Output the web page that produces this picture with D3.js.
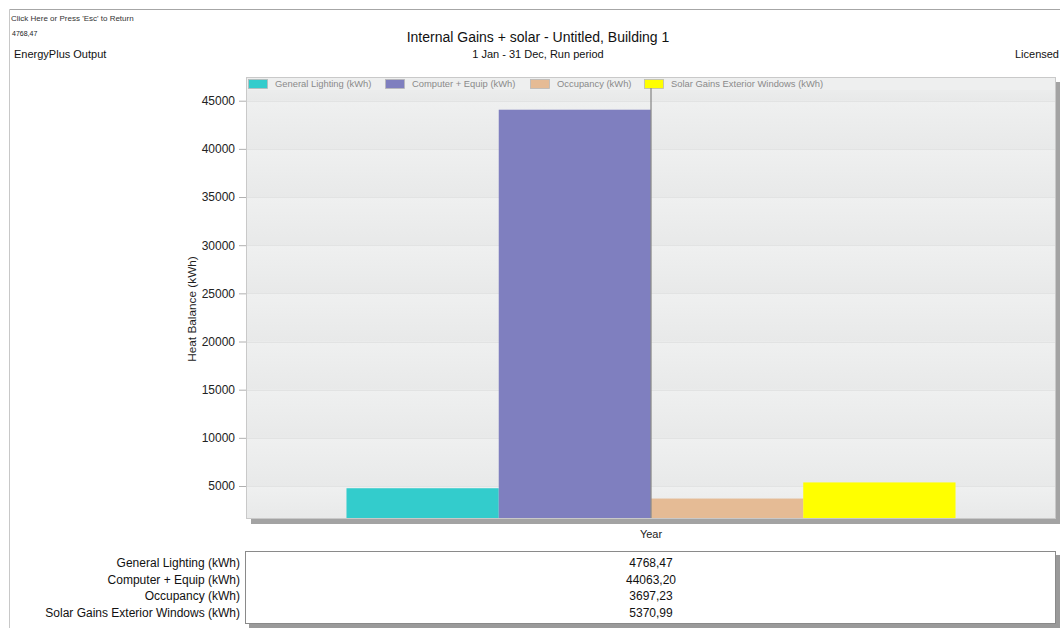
<!DOCTYPE html>
<html>
<head>
<meta charset="utf-8">
<script src="https://cdn.jsdelivr.net/npm/d3@7"></script>
<style>
  html, body { margin: 0; padding: 0; background: #fff; overflow: hidden; }
  svg { display: block; font-family: Arial, "Liberation Sans", sans-serif; }
</style>
</head>
<body>
<svg id="chart" width="1060" height="628"></svg>
<script>
// ---- data ----
const categories = ["Year"];
const seriesNames = ["General Lighting (kWh)", "Computer + Equip (kWh)", "Occupancy (kWh)", "Solar Gains Exterior Windows (kWh)"];
const seriesValues = [4768.47, 44063.20, 3697.23, 5370.99];
const seriesLabels = ["4768,47", "44063,20", "3697,23", "5370,99"];
const seriesColors = ["#33cccc", "#7f7fbf", "#e5bb95", "#ffff00"];
const yTicks = [5000, 10000, 15000, 20000, 25000, 30000, 35000, 40000, 45000];

const svg = d3.select("#chart");

// frame
svg.append("line").attr("x1", 9.5).attr("x2", 1060).attr("y1", 9.5).attr("y2", 9.5).attr("stroke", "#a6a6a6");
svg.append("line").attr("x1", 9.5).attr("x2", 9.5).attr("y1", 9.5).attr("y2", 628).attr("stroke", "#c8c8c8");

// header texts
svg.append("text").attr("x", 11).attr("y", 21).attr("font-size", 8).attr("fill", "#333").text("Click Here or Press 'Esc' to Return");
svg.append("text").attr("x", 12).attr("y", 36).attr("font-size", 7).attr("fill", "#222").text(seriesLabels[0]);
svg.append("text").attr("x", 14).attr("y", 58).attr("font-size", 11).attr("fill", "#111").text("EnergyPlus Output");
svg.append("text").attr("x", 1059).attr("y", 58).attr("font-size", 11).attr("text-anchor", "end").attr("fill", "#111").text("Licensed");
svg.append("text").attr("x", 538).attr("y", 42).attr("font-size", 14).attr("text-anchor", "middle").attr("fill", "#111")
  .text("Internal Gains + solar - Untitled, Building 1");
svg.append("text").attr("x", 538).attr("y", 58).attr("font-size", 11).attr("text-anchor", "middle").attr("fill", "#111")
  .text("1 Jan - 31 Dec, Run period");

// plot geometry
const plotL = 246, plotR = 1056, plotT = 77, plotB = 519;
const y = d3.scaleLinear().domain([5000, 45000]).range([486, 100.7]);
const yMin = y.invert(plotB), yMax = y.invert(plotT);
y.domain([yMin, yMax]).range([plotB, plotT]);

const x0 = d3.scaleBand().domain(categories).range([plotL, plotR]).paddingInner(0).paddingOuter(0.165);
const x1 = d3.scaleBand().domain(seriesNames).range([0, x0.bandwidth()]).padding(0);

// shadow
svg.append("rect").attr("x", plotL + 5).attr("y", plotT + 5).attr("width", plotR - plotL).attr("height", plotB - plotT)
  .attr("fill", "#a3a3a3");

// background bands with gradient
const defs = svg.append("defs");
const grad = defs.append("linearGradient").attr("id", "band").attr("x1", 0).attr("y1", 0).attr("x2", 0).attr("y2", 1);
grad.append("stop").attr("offset", "0%").attr("stop-color", "#eff0f0");
grad.append("stop").attr("offset", "100%").attr("stop-color", "#e8e9e9");
svg.append("rect").attr("x", plotL).attr("y", plotT).attr("width", plotR - plotL).attr("height", plotB - plotT).attr("fill", "#eceded");
const bandEdges = [yMin].concat(yTicks).concat([yMax]);
for (let i = 0; i < bandEdges.length - 1; i++) {
  const yb = y(bandEdges[i]), yt = y(bandEdges[i + 1]);
  svg.append("rect").attr("x", plotL).attr("y", yt).attr("width", plotR - plotL).attr("height", yb - yt).attr("fill", "url(#band)");
}
// gridlines
svg.append("g").selectAll("line").data(yTicks).join("line")
  .attr("x1", plotL).attr("x2", plotR).attr("y1", d => Math.round(y(d)) + 0.5).attr("y2", d => Math.round(y(d)) + 0.5)
  .attr("stroke", "#e2e3e3");

// bars
const g = svg.append("g").attr("transform", `translate(${x0(categories[0])},0)`);
g.selectAll("rect").data(seriesValues).join("rect")
  .attr("x", (d, i) => x1(seriesNames[i]))
  .attr("y", d => y(d))
  .attr("width", x1.bandwidth())
  .attr("height", d => plotB - y(d))
  .attr("fill", (d, i) => seriesColors[i]);

// legend strip
svg.append("rect").attr("x", plotL).attr("y", plotT).attr("width", plotR - plotL).attr("height", 13).attr("fill", "#eeefef");
const legendX = [248, 385, 530, 644];
const lg = svg.append("g");
seriesNames.forEach((n, i) => {
  lg.append("rect").attr("x", legendX[i] + 0.5).attr("y", 79.5).attr("width", 19).attr("height", 9)
    .attr("fill", seriesColors[i]).attr("stroke", "#b9b9b9").attr("stroke-width", 0.8);
  lg.append("text").attr("x", legendX[i] + 27).attr("y", 87).attr("font-size", 9.4).attr("fill", "#8a8a8a").text(n);
});

// category center line
svg.append("line").attr("x1", x0(categories[0]) + x0.bandwidth() / 2).attr("x2", x0(categories[0]) + x0.bandwidth() / 2)
  .attr("y1", 88).attr("y2", plotB).attr("stroke", "#8c8c8c").attr("stroke-width", 1.3);

// plot border
svg.append("rect").attr("x", plotL + 0.5).attr("y", plotT + 0.5).attr("width", plotR - plotL - 1).attr("height", plotB - plotT - 1)
  .attr("fill", "none").attr("stroke", "#c9c9c9");

// y axis
const yAxis = d3.axisLeft(y).tickValues(yTicks).tickSize(7).tickPadding(4).tickFormat(d3.format("d"));
const ya = svg.append("g").attr("transform", `translate(${plotL},0)`).call(yAxis);
ya.select(".domain").remove();
ya.selectAll(".tick line").attr("stroke", "#b0b0b0");
ya.selectAll(".tick text").attr("font-size", 12).attr("fill", "#222").attr("font-family", "Arial, 'Liberation Sans', sans-serif");

svg.append("text").attr("transform", "translate(196,309) rotate(-90)").attr("text-anchor", "middle")
  .attr("font-size", 11.8).attr("fill", "#222").text("Heat Balance (kWh)");

// x axis label
svg.append("text").attr("x", x0(categories[0]) + x0.bandwidth() / 2).attr("y", 538).attr("text-anchor", "middle")
  .attr("font-size", 11).attr("fill", "#222").text(categories[0]);

// data table
const tL = 245, tT = 551, tR = 1056, tB = 624;
svg.append("rect").attr("x", tL + 4).attr("y", tT + 4).attr("width", tR - tL).attr("height", tB - tT).attr("fill", "#9a9a9a");
svg.append("rect").attr("x", tL + 0.5).attr("y", tT + 0.5).attr("width", tR - tL - 1).attr("height", tB - tT - 1)
  .attr("fill", "#fff").attr("stroke", "#8a8a8a");
const rowY = d3.scalePoint().domain(seriesNames).range([567, 617]);
svg.append("g").selectAll("text").data(seriesNames).join("text")
  .attr("x", 240).attr("y", d => rowY(d)).attr("text-anchor", "end").attr("font-size", 12).attr("fill", "#111").text(d => d);
svg.append("g").selectAll("text").data(seriesLabels).join("text")
  .attr("x", 651).attr("y", (d, i) => rowY(seriesNames[i])).attr("text-anchor", "middle").attr("font-size", 12).attr("fill", "#111").text(d => d);
</script>
</body>
</html>
